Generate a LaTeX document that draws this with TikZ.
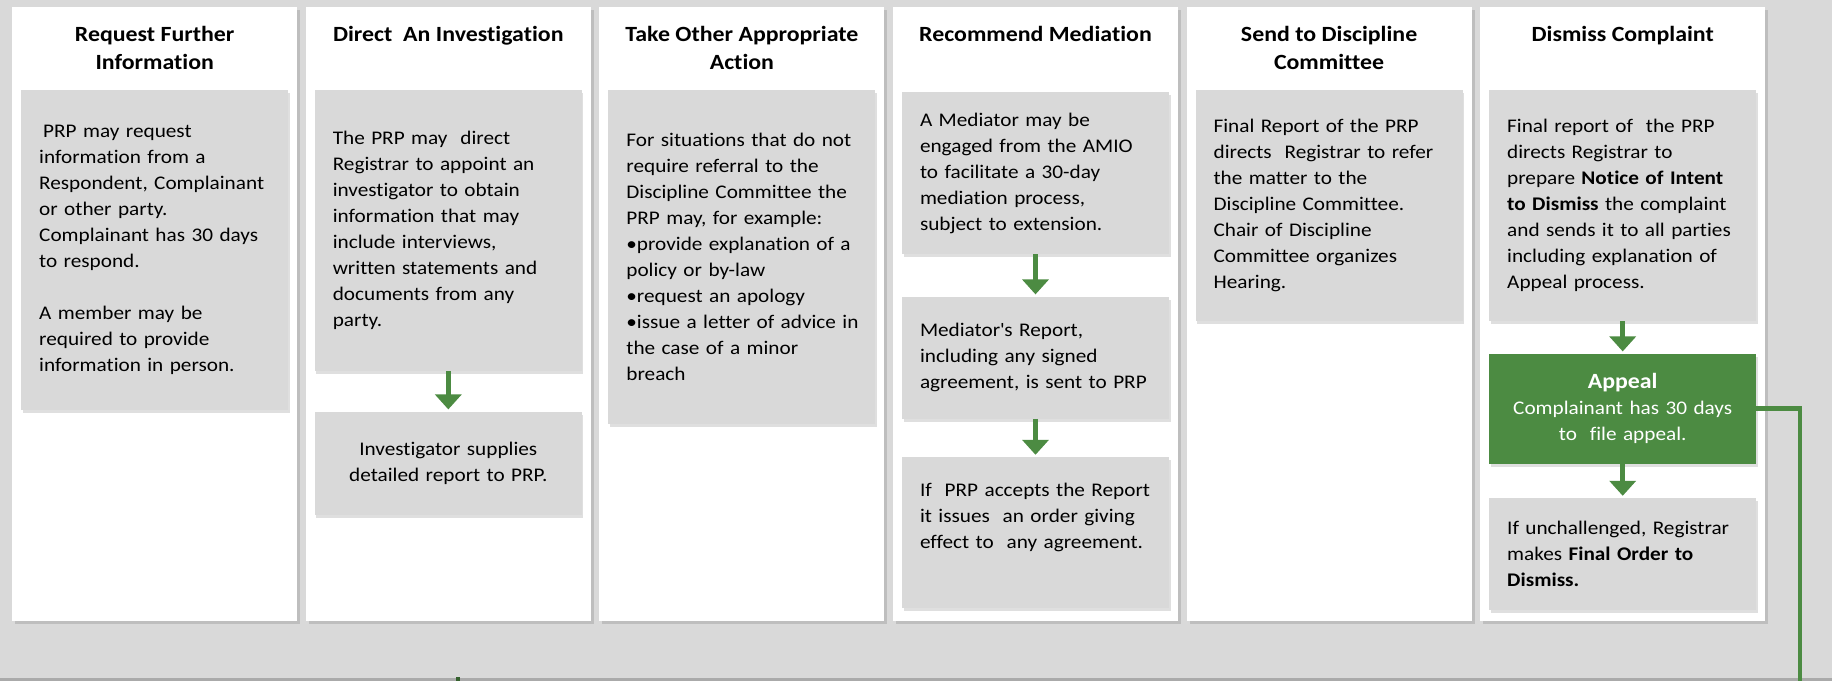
\documentclass[tikz,border=0pt]{standalone}
\usepackage{fontspec}
\setmainfont{Carlito}[FakeStretch=1.1, Ligatures=NoCommon]
\usetikzlibrary{positioning,arrows.meta,shadows}
\definecolor{panelgrey}{RGB}{217,217,217}
\definecolor{flowgreen}{RGB}{76,139,66}
\definecolor{edgegrey}{RGB}{170,170,170}

\begin{document}
\begin{tikzpicture}[
    x=1pt, y=-1pt,
    node distance=8.2pt,
    lane/.style={
        fill=white,
        minimum width=285pt,
        minimum height=614pt,
        inner sep=0pt,
        drop shadow={shadow xshift=3pt, shadow yshift=-3pt, opacity=.3}
    },
    lanetitle/.style={
        align=center,
        inner sep=0pt,
        font=\bfseries\fontsize{21.7pt}{27.6pt}\selectfont
    },
    card/.style={
        fill=panelgrey,
        text width=231pt,
        inner xsep=18pt,
        inner ysep=0pt,
        minimum height=#1,
        align=left,
        font=\fontsize{19.3pt}{26pt}\selectfont,
        drop shadow={shadow xshift=1.5pt, shadow yshift=-3pt, opacity=.25}
    },
    appealcard/.style={card=#1, fill=flowgreen, text=white, align=center},
    flow/.style={-{Triangle[width=26pt,length=15pt]}, line width=5pt, draw=flowgreen, shorten >=2pt},
    link/.style={line width=4.5pt, draw=flowgreen}
]

\fill[panelgrey] (0,0) rectangle (1832,681);
\useasboundingbox (0,0) rectangle (1832,681);

% lanes
\node[lane, anchor=north west] (col1) at (12,7) {};
\node[lane, right=of col1] (col2) {};
\node[lane, right=of col2] (col3) {};
\node[lane, right=of col3] (col4) {};
\node[lane, right=of col4] (col5) {};
\node[lane, right=of col5] (col6) {};

\node[lanetitle, below=19pt of col1.north] (ttl1) {Request Further\\Information};
\node[lanetitle, below=19pt of col2.north] (ttl2) {Direct\ \ An Investigation};
\node[lanetitle, below=19pt of col3.north] (ttl3) {Take Other Appropriate\\Action};
\node[lanetitle, below=19pt of col4.north] (ttl4) {Recommend Mediation};
\node[lanetitle, below=19pt of col5.north] (ttl5) {Send to Discipline\\Committee};
\node[lanetitle, below=19pt of col6.north] (ttl6) {Dismiss Complaint};

% request further information
\node[card=320pt, below=83pt of col1.north] (req) {\hspace*{4pt}PRP may request\\information from a\\Respondent, Complainant\\or other party.\\Complainant has 30 days\\to respond.\\[26pt]A member may be\\required to provide\\information in person.};

% investigation
\node[card=281pt, below=83pt of col2.north] (inv) {The PRP may\ \ direct\\Registrar to appoint an\\investigator to obtain\\information that may\\include interviews,\\written statements and\\documents from any\\party.};
\node[card=103pt, below=40pt of inv, align=center] (invrep) {Investigator supplies\\detailed report to PRP.};

% other action
\node[card=334pt, below=83pt of col3.north] (other) {For situations that do not\\require referral to the\\Discipline Committee the\\PRP may, for example:\\\textbullet provide explanation of a\\policy or by-law\\\textbullet request an apology\\\mbox{\textbullet issue a letter of advice in}\\the case of a minor\\breach};

% mediation
\node[card=162pt, below=85pt of col4.north] (med) {A Mediator may be\\engaged from the AMIO\\to facilitate a 30-day\\mediation process,\\subject to extension.};
\node[card=122pt, below=42pt of med] (medrep) {Mediator\textquotesingle s Report,\\including any signed\\agreement, is sent to PRP};
\node[card=151pt, below=38pt of medrep] (medord) {If\ \ PRP accepts the Report\\it issues\ \ an order giving\\effect to\ \ any agreement.\\\strut};

% discipline committee
\node[card=231pt, below=83pt of col5.north] (disc) {Final Report of the PRP\\directs\ \ Registrar to refer\\the matter to the\\Discipline Committee.\\Chair of Discipline\\Committee organizes\\Hearing.};

% dismiss
\node[card=231pt, below=83pt of col6.north] (dism) {Final report of\ \ the PRP\\directs Registrar to\\prepare \textbf{Notice of Intent}\\\textbf{to Dismiss} the complaint\\and sends it to all parties\\including explanation of\\Appeal process.};
\node[appealcard=110pt, below=32pt of dism] (appeal) {{\bfseries\fontsize{21.7pt}{27.6pt}\selectfont Appeal}\\Complainant has 30 days\\to\ \ file appeal.};
\node[card=112pt, below=34pt of appeal] (final) {If unchallenged, Registrar\\makes \textbf{Final Order to}\\\textbf{Dismiss.}};

\draw[flow] (inv) -- (invrep);
\draw[flow] (med) -- (medrep);
\draw[flow] (medrep) -- (medord);
\draw[flow] (dism) -- (appeal);
\draw[flow] (appeal) -- (final);

% bottom edge and lines leaving the band
\draw[edgegrey, line width=3pt] (0,679.5) -- (1832,679.5);
\coordinate (exit) at (1800,681);
\draw[link] (appeal.east) -| (exit);
\coordinate (stubtop) at (458,677);
\coordinate (stubend) at (458,681);
\draw[link, draw=flowgreen!70!black] (stubtop) -- (stubend);

\end{tikzpicture}
\end{document}
